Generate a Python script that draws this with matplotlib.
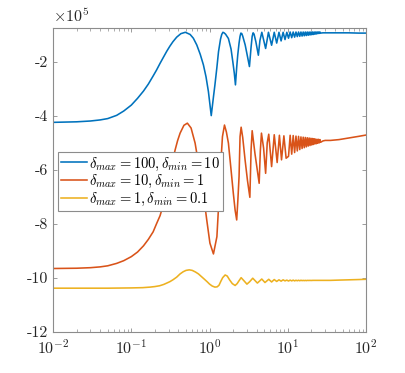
import numpy as np
import matplotlib
matplotlib.use("Agg")
import matplotlib.pyplot as plt

plt.rcParams['font.family'] = 'serif'
plt.rcParams['font.serif'] = ['cmr10', 'DejaVu Serif']
plt.rcParams['mathtext.fontset'] = 'cm'
plt.rcParams['axes.unicode_minus'] = False

# values in units of 1e5 (extrema + a few shape points)
# dense tail: troughs and peaks alternate, trough first
tail_x = [10.2, 10.7, 11.2, 11.7, 12.2, 12.7, 13.2, 13.7, 14.2, 14.7, 15.2, 15.7,
          16.2, 16.7, 17.2, 17.7, 18.2, 18.7, 19.2, 19.7, 20.2, 20.7, 21.2, 21.7,
          22.2, 22.7, 23.2, 23.7, 24.2, 24.7, 25.2, 25.7, 26.2]
end_x = [28, 30, 35, 45, 60, 80, 100]

blue_x = [0.01, 0.02, 0.03, 0.04, 0.05, 0.065, 0.08, 0.1, 0.12, 0.143, 0.165, 0.19,
          0.21, 0.233, 0.26, 0.284, 0.31, 0.34, 0.38, 0.43, 0.49, 0.564, 0.62, 0.686,
          0.76, 0.834, 0.9, 0.966, 1.05,
          1.12, 1.17, 1.24, 1.30, 1.38, 1.43, 1.48, 1.53, 1.6, 1.74, 1.88, 1.98, 2.07, 2.14,
          2.22, 2.29, 2.38, 2.45, 2.51, 2.58, 2.65, 2.85, 3.05, 3.23, 3.39, 3.5, 3.6, 3.7, 3.9, 4.2,
          4.4, 4.65, 5.2, 5.65, 6.2, 6.7, 7.2, 7.7, 8.2, 8.7, 9.2, 9.7]
blue_y = [-4.24, -4.22, -4.19, -4.15, -4.1, -3.98, -3.82, -3.6, -3.35, -3.08, -2.82, -2.52,
          -2.3, -2.05, -1.8, -1.6, -1.42, -1.25, -1.08, -0.95, -0.90, -0.98, -1.12, -1.37,
          -1.72, -2.11, -2.55, -3.10, -3.99,
          -3.3, -2.85, -2.2, -1.62, -1.15, -0.98, -0.90, -0.92, -0.97, -1.13, -1.52, -1.99, -2.42, -2.85,
          -2.2, -1.74, -1.3, -1.05, -0.93, -0.95, -1.04, -1.37, -1.8, -2.17, -1.45, -1.05, -0.92, -0.97, -1.25, -1.75,
          -1.2, -0.90, -1.5, -0.90, -1.38, -0.90, -1.3, -0.90, -1.22, -0.90, -1.17, -0.90]
blue_tail_troughs = [-1.12, -1.10, -1.08, -1.06, -1.05, -1.04, -1.03, -1.02, -1.01, -1.0,
                     -0.99, -0.98, -0.97, -0.96, -0.95, -0.94, -0.93]
blue_tail_peaks = [-0.89] * 16
blue_end = [-0.92, -0.92, -0.92, -0.92, -0.92, -0.93, -0.93]

orange_x = [0.01, 0.02, 0.03, 0.04, 0.05, 0.065, 0.08, 0.1, 0.12, 0.143, 0.165, 0.19,
            0.21, 0.233, 0.25, 0.27, 0.29, 0.31, 0.335, 0.363, 0.39, 0.42, 0.47, 0.52,
            0.58, 0.653, 0.72, 0.794, 0.86, 0.92, 1.01, 1.12,
            1.24, 1.30, 1.36, 1.46, 1.55, 1.64, 1.74, 1.88, 2.01, 2.12, 2.22,
            2.30, 2.38, 2.45, 2.53, 2.65, 2.84, 3.05, 3.27, 3.39, 3.5, 3.8, 4.3,
            4.45, 4.6, 4.9, 5.2, 5.45, 5.7, 6.2, 6.7, 7.3, 7.8, 8.3, 8.9, 9.5]
orange_y = [-9.66, -9.65, -9.63, -9.6, -9.56, -9.47, -9.37, -9.22, -9.05, -8.82, -8.58, -8.3,
            -8.0, -7.7, -7.4, -7.0, -6.6, -6.2, -5.7, -5.26, -4.92, -4.64, -4.35, -4.27,
            -4.45, -5.01, -5.75, -6.5, -7.2, -7.86, -8.72, -9.12,
            -8.48, -7.4, -6.25, -4.77, -4.34, -4.6, -5.01, -6.0, -6.87, -7.5, -7.86,
            -7.1, -6.25, -4.77, -4.42, -4.8, -5.63, -6.4, -7.02, -5.26, -4.55, -5.4, -6.5,
            -5.3, -4.64, -5.2, -6.13, -5.0, -4.68, -5.88, -4.7, -5.73, -4.72, -5.63, -4.74, -5.57]
orange_tail_troughs = [-5.5, -5.42, -5.36, -5.3, -5.25, -5.21, -5.18, -5.15, -5.12, -5.1,
                       -5.08, -5.06, -5.04, -5.03, -5.01, -5.0, -4.98]
orange_tail_peaks = [-4.72, -4.73, -4.75, -4.76, -4.78, -4.79, -4.8, -4.81, -4.82, -4.83,
                     -4.84, -4.85, -4.86, -4.87, -4.87, -4.88]
orange_end = [-4.93, -4.91, -4.91, -4.88, -4.82, -4.76, -4.71]

yellow_x = [0.01, 0.05, 0.1, 0.14, 0.174, 0.2, 0.23, 0.26, 0.284, 0.31, 0.34, 0.38,
            0.42, 0.46, 0.5, 0.55, 0.6, 0.66, 0.72, 0.78, 0.86, 0.93, 1.0, 1.08, 1.17,
            1.25, 1.32, 1.40, 1.47, 1.58, 1.68, 1.8, 1.95, 2.12,
            2.25, 2.37, 2.53, 2.76, 3.0, 3.25, 3.56, 4.08, 4.64, 5.1, 5.7, 6.2, 6.7,
            7.2, 7.7, 8.2, 8.7, 9.2, 9.7]
yellow_y = [-10.39, -10.39, -10.38, -10.37, -10.35, -10.33, -10.3, -10.25, -10.2, -10.15, -10.08, -9.98,
            -9.86, -9.78, -9.73, -9.71, -9.73, -9.79, -9.86, -9.95, -10.06, -10.15, -10.24, -10.31, -10.35,
            -10.34, -10.28, -10.12, -10.0, -9.90, -9.94, -10.08, -10.22, -10.29,
            -10.22, -10.12, -10.0, -10.12, -10.24, -10.15, -10.02, -10.2, -10.05, -10.18, -10.06, -10.16, -10.07,
            -10.14, -10.08, -10.13, -10.08, -10.12, -10.09]
yellow_tail_troughs = [-10.125, -10.12, -10.12, -10.115, -10.115, -10.11, -10.11, -10.11, -10.105,
                       -10.105, -10.105, -10.1, -10.1, -10.1, -10.1, -10.1, -10.1]
yellow_tail_peaks = [-10.09, -10.09, -10.095, -10.095, -10.095, -10.1, -10.1, -10.1, -10.1,
                     -10.1, -10.1, -10.1, -10.1, -10.1, -10.1, -10.1]
yellow_end = [-10.1, -10.1, -10.1, -10.09, -10.08, -10.07, -10.06]

labels = [r'$\delta_{max} = 100, \delta_{min} = 10$',
          r'$\delta_{max} = 10, \delta_{min} = 1$',
          r'$\delta_{max} = 1, \delta_{min} = 0.1$']
colors = ['#0072BD', '#D95319', '#EDB120']

yticks = [-12, -10, -8, -6, -4, -2]
xticks = [1e-2, 1e-1, 1e0, 1e1, 1e2]
xticklabels = [r'$10^{-2}$', r'$10^{-1}$', r'$10^{0}$', r'$10^{1}$', r'$10^{2}$']


def full_series(xs, ys, troughs, peaks, end):
    # interleave tail troughs / peaks and append the settled end of the curve
    tail = []
    for ii in range(len(tail_x)):
        tail.append(troughs[ii // 2] if ii % 2 == 0 else peaks[ii // 2])
    return list(xs) + tail_x + end_x, list(ys) + tail + list(end)


series = [full_series(blue_x, blue_y, blue_tail_troughs, blue_tail_peaks, blue_end),
          full_series(orange_x, orange_y, orange_tail_troughs, orange_tail_peaks, orange_end),
          full_series(yellow_x, yellow_y, yellow_tail_troughs, yellow_tail_peaks, yellow_end)]

fig = plt.figure(figsize=(4.05, 3.73), dpi=100)
ax = fig.add_axes([0.131, 0.111, 0.773, 0.814])

for (xs, ys), c, lab in zip(series, colors, labels):
    ax.plot(xs, ys, color=c, lw=1.15, label=lab)

ax.set_xscale('log')
ax.set_xlim(1e-2, 1e2)
ax.set_ylim(-12, -0.74)
ax.set_xticks(xticks)
ax.set_xticklabels(xticklabels)
ax.set_yticks(yticks)
ax.set_yticklabels([str(t) for t in yticks])

ax.tick_params(which='both', direction='in', top=True, right=True,
               colors='#8c8c8c', labelcolor='#262626', labelsize=11.5)
ax.tick_params(which='major', length=3, width=0.6)
ax.tick_params(which='minor', length=2, width=0.5)
ax.tick_params(axis='x', pad=5)
for sp in ax.spines.values():
    sp.set_color('#8c8c8c')
    sp.set_linewidth(0.8)

ax.text(0.0, 1.01, r'$\times 10^5$', transform=ax.transAxes, ha='left', va='bottom',
        fontsize=11.5, color='#262626')

leg = ax.legend(loc='upper left', bbox_to_anchor=(0.016, 0.59), fontsize=10.5,
                handlelength=1.75, handletextpad=0.15, borderpad=0.2, labelspacing=0.05,
                borderaxespad=0.0, fancybox=False, framealpha=1.0, edgecolor='#8c8c8c')
leg.get_frame().set_linewidth(0.8)

fig.savefig('out.png', dpi=100)
